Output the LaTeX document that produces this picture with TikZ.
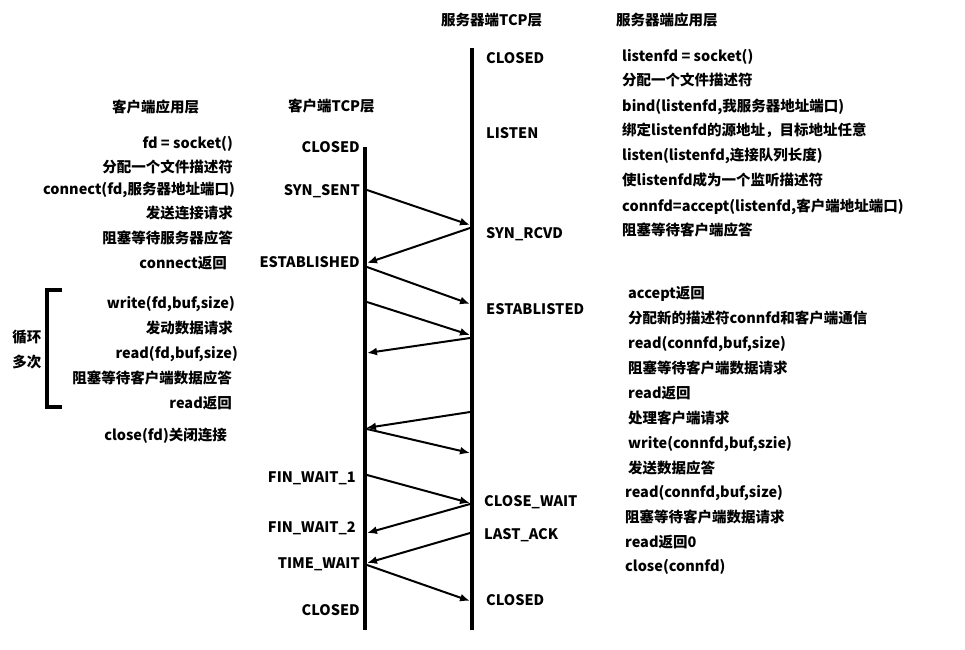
\documentclass[tikz,border=0pt]{standalone}
\usepackage{fontspec}
\setmainfont{Noto Sans CJK SC}
\usetikzlibrary{arrows.meta}
\begin{document}
\begin{tikzpicture}[x=1pt,y=-1pt,
  txt/.style={font=\bfseries\fontsize{14.5}{16}\selectfont, inner sep=0pt},
  rt/.style={txt, anchor=base east},
  lt/.style={txt, anchor=base west},
  life/.style={line width=4pt},
  msg/.style={line width=2pt, -{Latex[length=10pt,width=8pt]}}]
\useasboundingbox (0,0) rectangle (965,649);

% headers
\node[lt] (h1) at (441,25) {服务器端TCP层};
\node[lt] (h2) at (616,25) {服务器端应用层};
\node[lt] (h3) at (112,112) {客户端应用层};
\node[lt] (h4) at (288,111) {客户端TCP层};

% lifelines
\coordinate (ctop) at (365,147);
\coordinate (cbot) at (365,630);
\coordinate (stop) at (472,48);
\coordinate (sbot) at (472,630);
\draw[life] (ctop) -- (cbot);
\draw[life] (stop) -- (sbot);

% client TCP states
\node[rt] (cs1) at (360,152) {CLOSED};
\node[rt] (cs2) at (360,195) {SYN\_SENT};
\node[rt] (cs3) at (360,267) {ESTABLISHED};
\node[rt] (cs4) at (356,482) {FIN\_WAIT\_1};
\node[rt] (cs5) at (356,532) {FIN\_WAIT\_2};
\node[rt] (cs6) at (360,568) {TIME\_WAIT};
\node[rt] (cs7) at (360,615) {CLOSED};

% server TCP states
\node[lt] (ss1) at (486,63) {CLOSED};
\node[lt] (ss2) at (486,138) {LISTEN};
\node[lt] (ss3) at (486,238) {SYN\_RCVD};
\node[lt] (ss4) at (486,314) {ESTABLISTED};
\node[lt] (ss5) at (484,506) {CLOSE\_WAIT};
\node[lt] (ss6) at (484,539) {LAST\_ACK};
\node[lt] (ss7) at (486,605) {CLOSED};

% message endpoints
\coordinate (a1) at (367,190); \coordinate (b1) at (470,225);
\coordinate (a2) at (470,228); \coordinate (b2) at (367,263);
\coordinate (a3) at (367,267); \coordinate (b3) at (470,304);
\coordinate (a4) at (367,302); \coordinate (b4) at (470,335);
\coordinate (a5) at (470,338); \coordinate (b5) at (367,353);
\coordinate (a6) at (470,412); \coordinate (b6) at (366,428);
\coordinate (a7) at (367,429); \coordinate (b7) at (470,453);
\coordinate (a8) at (367,475); \coordinate (b8) at (470,503);
\coordinate (a9) at (470,504); \coordinate (b9) at (367,533);
\coordinate (a10) at (470,533); \coordinate (b10) at (367,563);
\coordinate (a11) at (367,565); \coordinate (b11) at (470,601);
\foreach \i in {1,...,11} \draw[msg] (a\i) -- (b\i);

% client application
\node[rt] (c1) at (233,148) {fd = socket()};
\node[rt] (c2) at (233,172) {分配一个文件描述符};
\node[rt] (c3) at (235,194) {connect(fd,服务器地址端口)};
\node[rt] (c4) at (233,218) {发送连接请求};
\node[rt] (c5) at (233,243) {阻塞等待服务器应答};
\node[rt] (c6) at (227,268) {connect返回};
\node[rt] (c7) at (235,308) {write(fd,buf,size)};
\node[rt] (c8) at (233,333) {发动数据请求};
\node[rt] (c9) at (238,358) {read(fd,buf,size)};
\node[rt] (c10) at (232,383) {阻塞等待客户端数据应答};
\node[rt] (c11) at (232,408) {read返回};
\node[rt] (c12) at (227,440) {close(fd)关闭连接};

% loop bracket
\draw[line width=4pt] (62,290) -- (47,290) -- (47,407) -- (62,407);
\node[txt] (l1) at (27,337) {循环};
\node[txt] (l2) at (27,362) {多次};

% server application
\node[lt] (s1) at (622,61) {listenfd = socket()};
\node[lt] (s2) at (622,85) {分配一个文件描述符};
\node[lt] (s3) at (622,111) {bind(listenfd,我服务器地址端口)};
\node[lt] (s4) at (622,135) {绑定listenfd的源地址，目标地址任意};
\node[lt] (s5) at (622,160) {listen(listenfd,连接队列长度)};
\node[lt] (s6) at (622,185) {使listenfd成为一个监听描述符};
\node[lt] (s7) at (622,211) {connfd=accept(listenfd,客户端地址端口)};
\node[lt] (s8) at (622,235) {阻塞等待客户端应答};

\node[lt] (s9) at (628,298) {accept返回};
\node[lt] (s10) at (628,323) {分配新的描述符connfd和客户端通信};
\node[lt] (s11) at (628,348) {read(connfd,buf,size)};
\node[lt] (s12) at (628,373) {阻塞等待客户端数据请求};
\node[lt] (s13) at (628,398) {read返回};
\node[lt] (s14) at (628,423) {处理客户端请求};
\node[lt] (s15) at (628,448) {write(connfd,buf,szie)};
\node[lt] (s16) at (628,473) {发送数据应答};
\node[lt] (s17) at (625,497) {read(connfd,buf,size)};
\node[lt] (s18) at (625,522) {阻塞等待客户端数据请求};
\node[lt] (s19) at (625,547) {read返回0};
\node[lt] (s20) at (625,571) {close(connfd)};
\end{tikzpicture}
\end{document}
